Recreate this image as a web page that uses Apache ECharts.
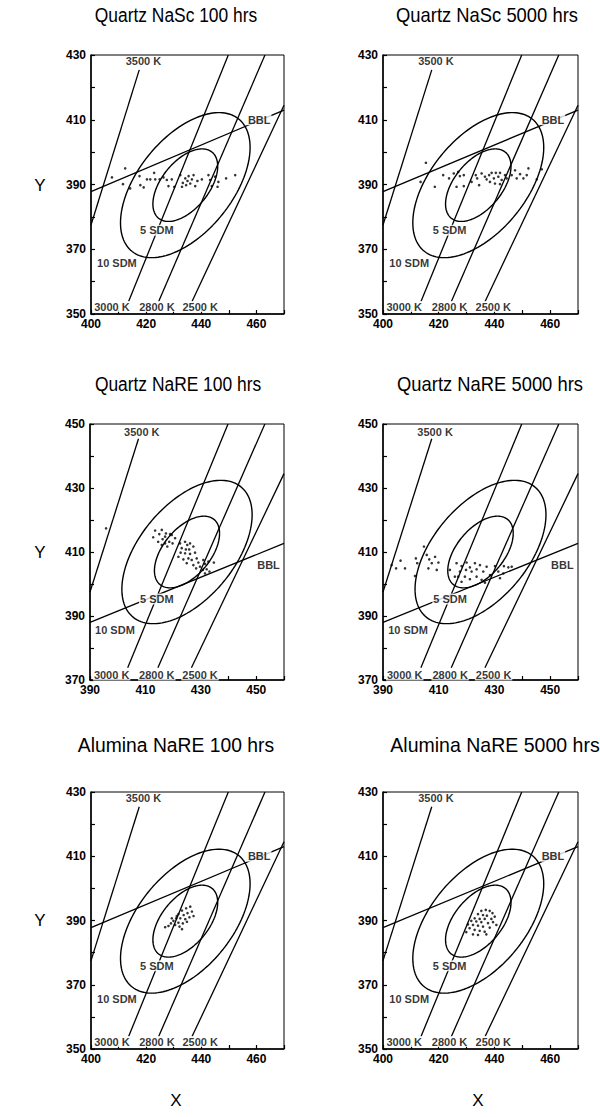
<!DOCTYPE html>
<html><head><meta charset="utf-8">
<script src="https://cdn.jsdelivr.net/npm/echarts@6/dist/echarts.min.js"></script>
<style>html,body{margin:0;padding:0;background:#fff}#c{width:600px;height:1117px}</style>
</head><body><div id="c"></div>
<script>
const FONT = '"Liberation Sans",Arial,Helvetica,sans-serif';

// ---------- panel titles ----------
const panelTitles = ['Quartz NaSc 100 hrs','Quartz NaSc 5000 hrs','Quartz NaRE 100 hrs','Quartz NaRE 5000 hrs','Alumina NaRE 100 hrs','Alumina NaRE 5000 hrs'];

// ---------- axis ranges ----------
const xRangeA = [400, 470], yRangeA = [350, 430];
const xRangeB = [390, 460], yRangeB = [370, 450];
const tickStep = 10, labelStep = 20;

// ---------- isotemperature lines (endpoints in chart units) ----------
const isoNames = ['3500 K', '3000 K', '2800 K', '2500 K'];
const isoLinesA = [
  [[417.5, 425.4], [400, 377.5]],
  [[413.6, 353.8], [449.8, 430]],
  [[424.5, 353.8], [463.1, 430]],
  [[436.6, 353.8], [470, 414.5]]
];
const isoLinesB = [
  [[407.5, 445.4], [390, 397.5]],
  [[403.6, 373.8], [439.8, 450]],
  [[414.5, 373.8], [453.1, 450]],
  [[426.6, 373.8], [460, 434.5]]
];
const bblA = [[400, 387.8], [470, 413.0]];
const bblB = [[390, 388.0], [460, 412.7]];

// ---------- SDM ellipses ----------
const ellipseCenterA = [434.2, 389.8];
const ellipseCenterB = [425.0, 410.0];
const ellipseAxis = [23.5, 22.4];      // half-extent in x and y for 10 SDM
const ellipsePhase = 58.7;             // phase shift (degrees) giving the tilt
const sdmScales = [1.0, 0.5];          // 10 SDM, 5 SDM

// ---------- inline labels ----------
const labelTexts = ['3500 K', '3000 K', '2800 K', '2500 K', 'BBL', '5 SDM', '10 SDM'];
const labelPosA = [[419, 428], [407.6, 352.3], [423.9, 352.3], [439.6, 352.3], [461, 410], [423.9, 375.9], [409.4, 365.6]];
const labelPosB = [[408.7, 447.6], [397.8, 371.6], [414.1, 371.6], [429.7, 371.6], [454.4, 406], [414.1, 395.3], [399, 385.6]];

// ---------- measured points ----------
const ptsQuartzNaSc100 = [
  [412.4,395],[407.6,392.2],[411.6,390.1],[414.2,388.8],[417.6,392.6],[417.9,389.8],[419.1,389.1],
  [420.3,391.6],[421.5,391.6],[422.9,393.6],[423.3,391.6],[424.9,391.6],[426.3,392.2],[427.5,391.4],
  [428.1,389.5],[429.3,391.6],[430.2,389.3],[432.4,392.9],[433.3,390.5],[434.2,391.9],[435.0,391.1],
  [435.4,392.6],[436.0,390.3],[436.6,391.6],[437.2,392.9],[437.8,389.5],[438.6,391.1],[440.2,391.6],
  [442.6,392.9],[443.2,391.4],[443.8,389.5],[445.0,392.4],[446.2,390.8],[445.9,389.3],[449.0,391.9],
  [452.3,392.9],[433.0,389.3],[434.5,389.8]
];
const ptsQuartzNaSc5000 = [
  [415.4,396.7],[413.5,390.8],[418.6,389.3],[421.6,392.9],[423.7,391.9],[425.4,393.4],[427.0,393.9],
  [427.6,392.6],[429.0,392.9],[426.4,389.3],[429.0,389.5],[433.3,392.9],[433.8,391.9],[434.5,389.8],
  [435.4,393.4],[436.6,392.4],[437.2,391.6],[438.1,392.9],[438.4,390.8],[439.0,393.6],[439.8,391.9],
  [440.2,390.3],[440.5,393.6],[441.4,392.4],[442.0,393.6],[442.6,391.4],[443.8,392.9],[444.4,391.9],
  [446.2,392.9],[447.4,394.4],[448.0,391.9],[449.2,393.2],[450.4,391.9],[451.6,392.9],[452.2,395.0],
  [455.2,391.6],[457.0,394.7],[431.8,390.8],[442.0,390.1]
];
const ptsQuartzNaRE100 = [
  [395.8,417.4],[413.5,416.7],[415.0,415.6],[415.9,416.9],[417.4,415.8],[418.9,415.6],[412.8,414.6],
  [414.6,413.2],[416.2,414.0],[417.1,412.7],[418.6,413.2],[415.9,412.2],[417.9,411.7],[419.8,412.7],
  [420.7,414.3],[419.5,415.3],[422.5,412.7],[424.3,413.2],[425.1,412.2],[426.1,412.7],[423.1,411.2],
  [424.6,410.8],[425.8,410.8],[427.3,411.7],[422.7,409.8],[424.3,409.6],[426.1,409.4],[427.9,409.8],
  [421.9,408.5],[423.7,407.7],[425.5,408.0],[426.7,407.5],[428.5,408.0],[424.9,406.5],[427.3,405.9],
  [429.1,406.7],[429.7,405.4],[430.9,407.5],[431.5,406.3],[432.7,407.0],[434.7,406.7],[430.7,404.4],
  [432.1,404.6],[431.5,403.3],[433.1,403.9],[428.3,404.9],[417.1,414.8]
];
const ptsQuartzNaRE5000 = [
  [404.7,411.7],[393.1,405.9],[394.7,404.9],[396.3,407.3],[397.9,404.9],[401.8,408.0],[402.3,406.5],
  [401.5,402.5],[405.7,409.1],[406.6,407.7],[408.7,408.5],[407.5,406.5],[409.9,406.7],[409.3,404.4],
  [406.3,404.9],[414.0,404.4],[416.4,406.5],[418.2,405.6],[417.6,403.9],[420.0,406.7],[421.2,405.2],
  [423.0,406.5],[419.8,404.4],[421.8,403.9],[423.6,404.6],[424.8,405.9],[426.0,403.9],[427.2,405.4],
  [417.0,402.3],[419.4,402.3],[421.2,401.5],[423.6,402.3],[418.2,400.7],[425.4,401.3],[428.4,402.8],
  [430.2,405.6],[431.4,403.9],[433.4,405.6],[435.0,405.2],[433.2,403.3],[432.0,401.8],[436.2,405.4],
  [415.8,402.3],[426.6,400.4]
];
const ptsAluminaNaRE100 = [
  [436.0,394.3],[434.5,393.8],[433.0,393.1],[436.6,392.8],[435.0,392.3],[433.6,391.7],[431.7,392.0],
  [437.2,391.4],[435.7,391.0],[430.9,390.7],[432.4,390.7],[434.2,390.4],[429.9,389.9],[431.7,389.3],
  [433.3,389.1],[429.0,389.1],[430.5,388.6],[428.1,388.3],[426.9,387.9],[432.1,388.1],[429.3,390.7],
  [434.8,389.6],[433.0,387.3],[431.1,391.4]
];
const ptsAluminaNaRE5000 = [
  [435.3,393.0],[436.9,393.3],[438.3,393.0],[439.3,392.3],[434.1,392.0],[435.9,391.7],[437.3,391.5],
  [432.9,390.7],[434.7,390.5],[436.5,390.5],[438.9,390.5],[431.7,389.9],[433.5,389.7],[435.3,389.5],
  [437.7,389.2],[439.5,389.5],[430.5,388.8],[432.3,388.6],[434.1,388.4],[435.9,388.1],[438.3,387.8],
  [431.1,387.6],[432.9,387.1],[434.7,386.8],[436.5,386.5],[429.9,386.4],[432.3,385.7],[434.1,385.5],
  [440.1,391.2],[440.7,388.6],[437.1,385.7]
];
const panelPoints = [ptsQuartzNaSc100, ptsQuartzNaSc5000, ptsQuartzNaRE100, ptsQuartzNaRE5000, ptsAluminaNaRE100, ptsAluminaNaRE5000];
const panelGroup = ['A','A','B','B','A','A'];

// ---------- layout ----------
const gridBoxes = [
  {left: 91, top: 55, width: 193, height: 259},
  {left: 383, top: 55, width: 195, height: 259},
  {left: 90, top: 424, width: 194, height: 256},
  {left: 383, top: 424, width: 195, height: 256},
  {left: 91, top: 792, width: 193, height: 257},
  {left: 383, top: 792, width: 195, height: 257}
];
const titlePos = [[176, 15], [487, 15], [178, 384], [490, 384], [176, 745], [495, 745]];
const titleSize = [20, 20, 20, 20, 21, 21];
const titleScaleX = [0.87, 0.92, 0.87, 0.92, 0.92, 0.93];

function ellipsePts(c, s) {
  const pts = [], ph = ellipsePhase * Math.PI / 180;
  for (let k = 0; k <= 144; k++) {
    const t = 2 * Math.PI * k / 144;
    pts.push([c[0] + s * ellipseAxis[0] * Math.cos(t), c[1] + s * ellipseAxis[1] * Math.cos(t - ph)]);
  }
  return pts;
}

const grids = [], xAxes = [], yAxes = [], series = [], graphics = [];
const lineStyle = {color: '#000', width: 1.3};

gridBoxes.forEach((g, i) => {
  const grp = panelGroup[i];
  const xr = grp === 'A' ? xRangeA : xRangeB;
  const yr = grp === 'A' ? yRangeA : yRangeB;
  grids.push(Object.assign({show: true, borderColor: '#000', borderWidth: 1, backgroundColor: 'transparent'}, g));
  const axisCommon = {
    type: 'value', gridIndex: i, interval: tickStep,
    axisLine: {show: true, lineStyle: {color: '#000', width: 1.5}},
    axisTick: {show: true, inside: true, length: 4, lineStyle: {color: '#000', width: 1.2}},
    splitLine: {show: false},
  };
  xAxes.push(Object.assign({}, axisCommon, {
    min: xr[0], max: xr[1],
    axisLabel: {color: '#000', fontFamily: FONT, fontWeight: 'bold', fontSize: 12, margin: 4,
      formatter: v => ((v - xr[0]) % labelStep === 0 ? String(v) : '')}
  }));
  yAxes.push(Object.assign({}, axisCommon, {
    min: yr[0], max: yr[1],
    axisLabel: {color: '#000', fontFamily: FONT, fontWeight: 'bold', fontSize: 12, margin: 5,
      formatter: v => ((v - yr[0]) % labelStep === 0 ? String(v) : '')}
  }));
  const iso = grp === 'A' ? isoLinesA : isoLinesB;
  iso.forEach((seg, k) => series.push({
    type: 'line', name: isoNames[k], xAxisIndex: i, yAxisIndex: i, data: seg,
    showSymbol: false, symbol: 'none', lineStyle: lineStyle, silent: true, animation: false, z: 2
  }));
  series.push({type: 'line', name: 'BBL', xAxisIndex: i, yAxisIndex: i, data: grp === 'A' ? bblA : bblB,
    symbol: 'none', lineStyle: lineStyle, silent: true, animation: false, z: 2});
  const c = grp === 'A' ? ellipseCenterA : ellipseCenterB;
  sdmScales.forEach(s => series.push({
    type: 'line', xAxisIndex: i, yAxisIndex: i, data: ellipsePts(c, s),
    symbol: 'none', lineStyle: {color: '#000', width: 1.4}, silent: true, animation: false, z: 2
  }));
  series.push({type: 'scatter', xAxisIndex: i, yAxisIndex: i, data: panelPoints[i],
    symbol: 'circle', symbolSize: 2.6, itemStyle: {color: '#000'}, silent: true, animation: false, z: 3});
  const lp = grp === 'A' ? labelPosA : labelPosB;
  series.push({type: 'scatter', xAxisIndex: i, yAxisIndex: i, symbolSize: 0, silent: true, animation: false, z: 5,
    data: lp.map((p, k) => ({value: p, name: labelTexts[k]})),
    label: {show: true, position: 'inside', formatter: '{b}', color: '#000', fontFamily: FONT, fontWeight: 'bold',
      fontSize: 11, backgroundColor: '#fff', padding: [0, 1]}
  });
  graphics.push({type: 'text', x: titlePos[i][0], y: titlePos[i][1], scaleX: titleScaleX[i], style: {
    text: panelTitles[i], fill: '#000', font: titleSize[i] + 'px ' + FONT, textAlign: 'center', textVerticalAlign: 'middle'}});
});

// axis titles
const yTitleX = 40, yTitleRows = [185, 552, 920];
yTitleRows.forEach(y => graphics.push({type: 'text', x: yTitleX, y: y, style: {text: 'Y', fill: '#000', font: '17px ' + FONT, textAlign: 'center', textVerticalAlign: 'middle'}}));
const xTitleY = 1100, xTitleCols = [176, 478];
xTitleCols.forEach(x => graphics.push({type: 'text', x: x, y: xTitleY, style: {text: 'X', fill: '#000', font: '17px ' + FONT, textAlign: 'center', textVerticalAlign: 'middle'}}));

const chart = echarts.init(document.getElementById('c'), null, {renderer: 'svg'});
chart.setOption({animation: false, backgroundColor: '#fff', grid: grids, xAxis: xAxes, yAxis: yAxes, series: series, graphic: graphics});
</script></body></html>
